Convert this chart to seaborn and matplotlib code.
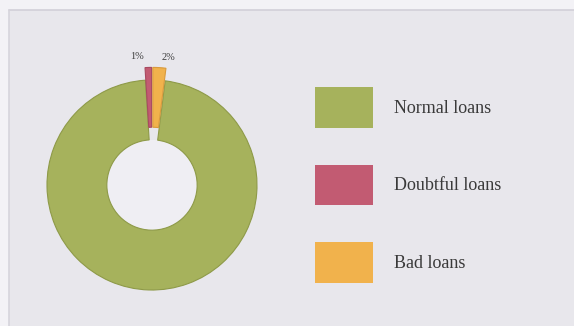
import matplotlib
matplotlib.use("Agg")
import matplotlib.pyplot as plt
import matplotlib.patches as mpatches
import numpy as np
import seaborn as sns

# Loan portfolio breakdown (percent of total)
categories = ["Normal loans", "Doubtful loans", "Bad loans"]
shares = [97, 1, 2]
share_labels = ["", "1%", "2%"]
colors = ["#a6b25c", "#c25b72", "#f1b24c"]
edge_colors = ["#8e9a48", "#a94a60", "#d99a3c"]

sns.set_theme(style="white")
plt.rcParams["font.family"] = ["Liberation Serif", "DejaVu Serif"]

W, H, DPI = 574, 326, 100
fig = plt.figure(figsize=(W / DPI, H / DPI), dpi=DPI, facecolor="#f3f2f6")

# light panel behind the chart with a faint top/left rule
panel = mpatches.Rectangle((9 / W, 0), 1 - 9 / W, 1 - 10 / H, transform=fig.transFigure,
                           facecolor="#e8e7ec", edgecolor="none", zorder=-5)
fig.add_artist(panel)
fig.add_artist(plt.Line2D([9 / W, 1], [1 - 10 / H, 1 - 10 / H], transform=fig.transFigure,
                          color="#d2d0d8", lw=1.2, zorder=-4))
fig.add_artist(plt.Line2D([9 / W, 9 / W], [0, 1 - 10 / H], transform=fig.transFigure,
                          color="#d6d4dc", lw=1.2, zorder=-4))

# donut axes: centre at (152, 185) px, radius 105 px
cx, cy, R = 152, 185, 105
half = 1.25 * R
ax = fig.add_axes([(cx - half) / W, (H - cy - half) / H, 2 * half / W, 2 * half / H])
ax.set_facecolor("none")
ax.set_zorder(2)

ring_width = 0.57
bad_deg = 360 * shares[2] / sum(shares)
start = 90 - bad_deg  # small slices sit on either side of twelve o'clock

# slightly lighter disc inside the hole
ax.add_patch(mpatches.Circle((0, 0), 1 - ring_width, facecolor="#efeef3", edgecolor="none", zorder=0))

wedges, _ = ax.pie(
    shares,
    colors=colors,
    startangle=start,
    counterclock=False,
    explode=[0, 0.12, 0.12],
    radius=1.0,
    wedgeprops=dict(width=ring_width, linewidth=0.8),
)
for w, ec in zip(wedges, edge_colors):
    w.set_edgecolor(ec)

# percentage labels above the two small slices
offsets = [0, -8, 6]
for w, lab, dx in zip(wedges, share_labels, offsets):
    if not lab:
        continue
    ang = np.deg2rad((w.theta1 + w.theta2) / 2)
    ax.annotate(lab, xy=(1.22 * np.cos(ang), 1.22 * np.sin(ang)),
                xytext=(dx, 0), textcoords="offset points",
                ha="center", va="center", fontsize=7.5, color="#3c3c3c")

ax.set_xlim(-1.25, 1.25)
ax.set_ylim(-1.25, 1.25)
ax.set_aspect("equal")
ax.axis("off")

# legend with large colour swatches
fs = 13
fs_px = fs * DPI / 72
handles = [mpatches.Patch(facecolor=c, edgecolor="none", label=l) for c, l in zip(colors, categories)]
fig.legend(
    handles=handles,
    loc="upper left",
    bbox_to_anchor=(315 / W, 1 - 87 / H),
    frameon=False,
    fontsize=fs,
    handlelength=58 / fs_px,
    handleheight=40 / fs,
    labelspacing=37 / fs_px,
    handletextpad=21 / fs_px,
    borderpad=0,
    borderaxespad=0,
    labelcolor="#3a3a3a",
)

fig.savefig("out.png", dpi=DPI, facecolor=fig.get_facecolor())
